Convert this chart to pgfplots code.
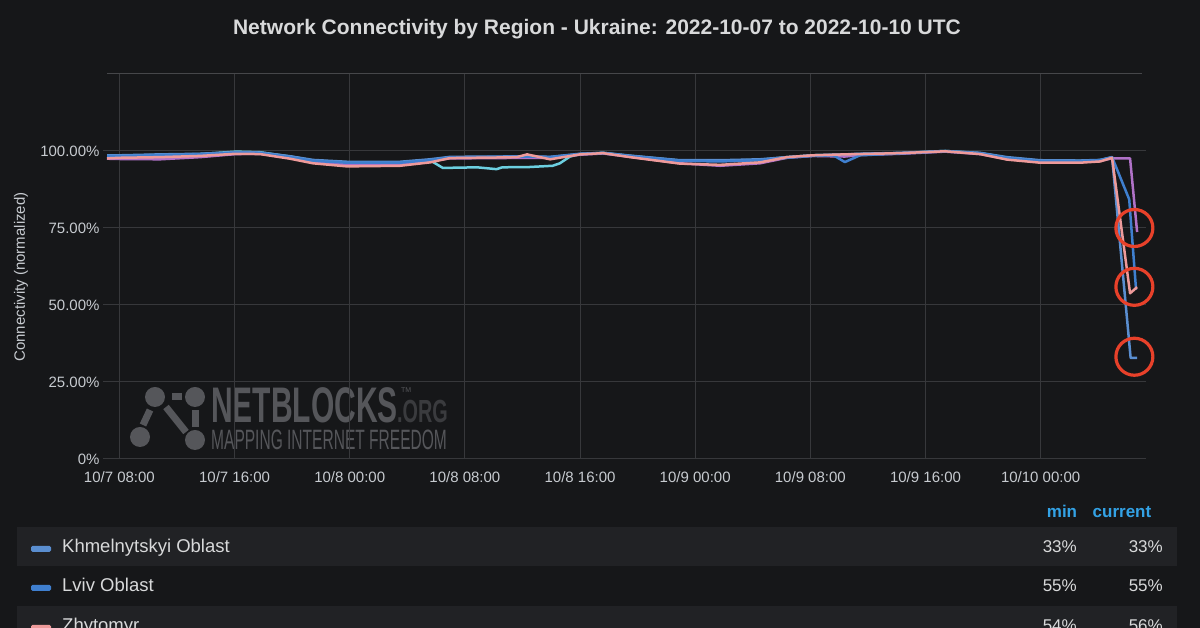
\documentclass[border=0pt]{standalone}
\usepackage{pgfplots}
\pgfplotsset{compat=1.18}
\usepackage{fontspec}
\setmainfont{Liberation Sans}

\definecolor{bg}{HTML}{161719}
\definecolor{rowc}{HTML}{212225}
\definecolor{gridc}{HTML}{37383B}
\definecolor{topc}{HTML}{46474A}
\definecolor{titlec}{HTML}{D8D9DA}
\definecolor{tickc}{HTML}{C7CBD0}
\definecolor{headc}{HTML}{33A2E5}
\definecolor{khc}{HTML}{5A8ED0}
\definecolor{lvc}{HTML}{3F7FCF}
\definecolor{zhc}{HTML}{EE9A9A}
\definecolor{puc}{HTML}{B072C8}
\definecolor{cyc}{HTML}{6CCFE0}
\definecolor{nbred}{HTML}{E8412A}
\definecolor{wm}{HTML}{55565A}
\definecolor{wmdark}{HTML}{3A3B3E}

\begin{document}
\begin{tikzpicture}
\useasboundingbox (0pt,0pt) rectangle (1200pt,628pt);
\clip (0pt,0pt) rectangle (1200pt,628pt);
\fill[bg] (0pt,0pt) rectangle (1200pt,628pt);

% title
\node[anchor=base, text=titlec, font=\fontsize{21}{24}\selectfont\bfseries, inner sep=0pt]
  at (597pt,593pt) {Network Connectivity by Region - Ukraine: 2022-10-07 to 2022-10-10 UTC};

% y label
\node[rotate=90, text=tickc, font=\fontsize{15}{18}\selectfont, inner sep=0pt]
  at (21pt,351pt) {Connectivity (normalized)};

% watermark
\begin{scope}[wm]
  \draw[line width=7pt] (172pt,231pt) -- (182pt,231pt);
  \draw[line width=7pt] (150pt,218pt) -- (143pt,203pt);
  \draw[line width=7pt] (166pt,221pt) -- (186pt,196pt);
  \draw[line width=7pt] (195pt,218pt) -- (195pt,201pt);
  \fill (155pt,231pt) circle (10pt);
  \fill (195pt,231pt) circle (10pt);
  \fill (140pt,191pt) circle (10pt);
  \fill (195pt,188pt) circle (10pt);
  \node[anchor=base west, inner sep=0pt, text=wm] at (211pt,205pt)
    {\scalebox{0.6}[1]{\fontsize{50}{50}\selectfont\bfseries NETBLOCKS}};
  \node[anchor=base west, inner sep=0pt, text=wmdark] at (397pt,205pt)
    {\scalebox{0.62}[1]{\fontsize{32}{32}\selectfont\bfseries .ORG}};
  \node[anchor=base west, inner sep=0pt, text=wm] at (401pt,235pt)
    {\fontsize{7}{7}\selectfont TM};
  \node[anchor=base west, inner sep=0pt, text=wm] at (211pt,178pt)
    {\scalebox{0.555}[1]{\fontsize{28}{28}\selectfont MAPPING INTERNET FREEDOM}};
\end{scope}

\begin{axis}[
  at={(107pt,169pt)}, anchor=south west,
  width=1035pt, height=385pt, scale only axis,
  xmin=7.14, xmax=79.04, ymin=0, ymax=125,
  axis line style={draw=none},
  xtick={8,16,...,72},
  xticklabels={10/7 08:00,10/7 16:00,10/8 00:00,10/8 08:00,10/8 16:00,10/9 00:00,10/9 08:00,10/9 16:00,10/10 00:00},
  ytick={0,25,50,75,100},
  yticklabels={0\%,25.00\%,50.00\%,75.00\%,100.00\%},
  extra y ticks={125}, extra y tick labels={},
  extra y tick style={grid style={topc, line width=1pt}, major tick length=0pt},
  grid=major, grid style={gridc, line width=1pt},
  tick align=outside, major tick length=4pt,
  xtick style={draw=none}, ytick style={gridc, line width=1pt},
  ticklabel style={font=\fontsize{15}{18}\selectfont, text=tickc},
  xticklabel style={yshift=-5pt},
  clip=false,
  every axis plot/.append style={line width=2.5pt, line join=round},
]
% Cyan series
\addplot[cyc] coordinates {
(7.14,98.4) (8.04,98.4) (10.82,98.7) (13.6,99.0) (16.1,99.8) (17.77,99.6)
(19.85,98.2) (21.45,96.9) (23.81,96.3) (27.5,96.3) (29.58,97.0) (30.47,94.5)
(32.85,94.7) (34.2,94.1) (34.6,94.7) (36.5,94.8) (38.1,95.2) (38.6,96.0)
(39.3,98.2) (40.0,99.0) (41.6,99.4) (43.48,98.4) (46.95,96.9) (49.73,96.8)
(52.5,97.1) (54.38,98.0) (56.18,98.6) (58.4,98.8) (59.45,99.0) (62.23,99.3)
(65.36,100.0) (67.79,99.3) (69.67,97.8) (71.96,96.8) (74.74,96.8) (76.13,97.0)
(76.96,97.9)};
% Purple series
\addplot[puc] coordinates {
(7.14,97.5) (8.04,97.4) (10.82,97.3) (13.6,98.0) (16.1,99.0) (17.77,99.1)
(19.85,97.8) (21.45,96.4) (23.81,95.6) (27.5,95.8) (29.58,96.8) (30.97,97.6)
(34.44,97.7) (36.32,97.8) (37.92,97.8) (40.0,98.8) (41.6,99.2) (43.48,98.1)
(46.95,96.0) (49.73,95.2) (52.5,96.0) (54.38,97.8) (56.18,98.4) (58.4,98.2)
(59.45,98.7) (62.23,99.1) (65.36,99.8) (67.79,99.0) (69.67,97.4) (71.96,96.4)
(74.74,96.4) (76.13,96.8) (76.96,97.6) (78.21,97.6) (78.70,73.7)};
% Khmelnytskyi Oblast
\addplot[khc] coordinates {
(7.14,98.6) (8.04,98.6) (10.82,98.9) (13.6,99.1) (16.1,99.6) (17.77,99.5)
(19.85,98.3) (21.45,97.1) (23.81,96.5) (27.5,96.5) (29.58,97.3) (30.97,98.1)
(34.44,98.2) (36.32,98.3) (37.92,98.1) (40.0,99.1) (41.6,99.4) (43.48,98.5)
(46.95,97.0) (49.73,97.0) (52.5,97.3) (54.38,98.0) (56.18,98.6) (58.4,98.9)
(59.45,99.1) (62.23,99.4) (65.36,100.0) (67.79,99.4) (69.67,98.0) (71.96,97.0)
(74.74,96.9) (76.13,97.1) (76.96,98.0) (78.25,32.8) (78.70,32.8)};
% Lviv Oblast
\addplot[lvc] coordinates {
(7.14,98.3) (8.04,98.3) (10.82,98.6) (13.6,98.9) (16.1,99.4) (17.77,99.3)
(19.85,98.0) (21.45,96.8) (23.81,96.2) (27.5,96.2) (29.58,97.0) (30.97,97.9)
(34.44,98.1) (36.32,98.2) (37.92,98.0) (40.0,99.0) (41.6,99.3) (43.48,98.3)
(46.95,96.8) (49.73,96.6) (52.5,97.0) (54.38,97.8) (56.18,98.4) (57.6,98.6)
(58.4,96.4) (59.45,98.6) (62.23,99.2) (65.36,99.9) (67.79,99.2) (69.67,97.7)
(71.96,96.7) (74.74,96.7) (76.13,97.0) (76.96,98.0) (78.15,84.3) (78.62,55.4)
(78.70,55.4)};
% Zhytomyr
\addplot[zhc] coordinates {
(7.14,97.6) (8.04,97.8) (10.82,98.0) (13.6,98.4) (16.1,99.1) (17.77,99.0)
(19.85,97.5) (21.45,96.0) (23.81,95.0) (27.5,95.2) (29.58,96.3) (30.97,97.7)
(34.44,97.9) (35.6,98.0) (36.32,98.9) (37.92,97.3) (40.0,98.9) (41.6,99.3)
(43.48,98.0) (46.95,95.9) (49.73,95.5) (52.5,96.3) (54.38,98.0) (56.18,98.6)
(58.4,98.9) (59.45,99.0) (62.23,99.3) (65.36,99.9) (67.79,99.0) (69.67,97.2)
(71.96,96.2) (74.74,96.2) (76.13,96.6) (76.96,97.8) (78.21,53.8) (78.70,55.8)};
% red highlight circles
\addplot[only marks, mark=o, mark size=18.5pt, mark options={draw=nbred, line width=3.2pt}]
  coordinates {(78.51,75.0) (78.51,55.9) (78.51,33.2)};
\end{axis}

% legend table
\fill[rowc] (17pt,62pt) rectangle (1177pt,101pt);
\fill[rowc] (17pt,-10pt) rectangle (1177pt,22pt);
\node[anchor=base, text=headc, font=\fontsize{17}{20}\selectfont\bfseries, inner sep=0pt] at (1062pt,110pt) {min};
\node[anchor=base, text=headc, font=\fontsize{17}{20}\selectfont\bfseries, inner sep=0pt] at (1122pt,110pt) {current};

\fill[khc, rounded corners=1.5pt] (31pt,76pt) rectangle (51pt,82pt);
\fill[lvc, rounded corners=1.5pt] (31pt,37pt) rectangle (51pt,43pt);
\fill[zhc, rounded corners=1.5pt] (31pt,-3pt) rectangle (51pt,3pt);

\begin{scope}[every node/.style={inner sep=0pt, text=titlec, font=\fontsize{18.5}{21}\selectfont}]
  \node[anchor=base west] at (62pt,75pt) {Khmelnytskyi Oblast};
  \node[anchor=base west] at (62pt,36pt) {Lviv Oblast};
  \node[anchor=base west] at (62pt,-4pt) {Zhytomyr};
\end{scope}
\begin{scope}[every node/.style={inner sep=0pt, text=titlec, font=\fontsize{17}{20}\selectfont}]
  \node[anchor=base east] at (1077pt,75pt) {33\%};
  \node[anchor=base east] at (1163pt,75pt) {33\%};
  \node[anchor=base east] at (1077pt,36pt) {55\%};
  \node[anchor=base east] at (1163pt,36pt) {55\%};
  \node[anchor=base east] at (1077pt,-4pt) {54\%};
  \node[anchor=base east] at (1163pt,-4pt) {56\%};
\end{scope}
\end{tikzpicture}
\end{document}
